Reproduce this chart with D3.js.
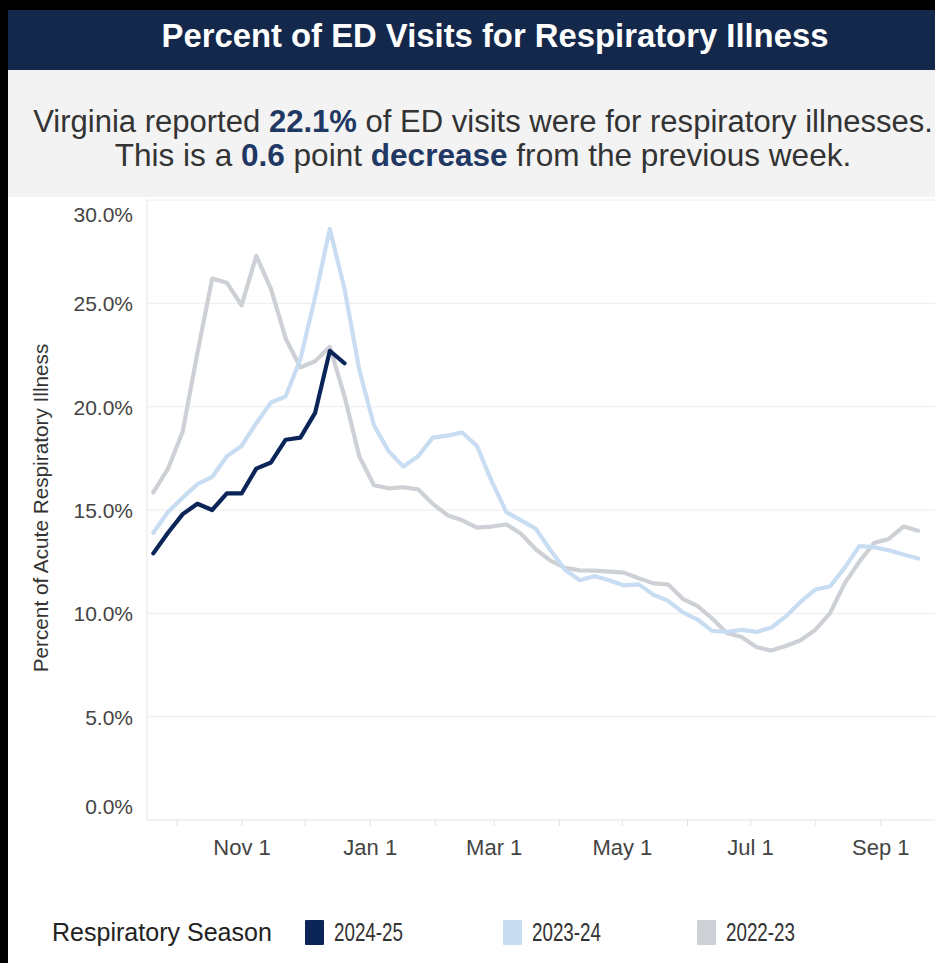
<!DOCTYPE html>
<html>
<head>
<meta charset="utf-8">
<script src="https://cdn.jsdelivr.net/npm/d3@7"></script>
<style>
  body { margin: 0; background: #fff; }
  svg { display: block; font-family: "Liberation Sans", Arial, sans-serif; }
</style>
</head>
<body>
<div id="chart"></div>
<script>
// seasons, newest first (legend order)
const seasons = ["2024-25", "2023-24", "2022-23"];
const seasonColors = ["#0b2559", "#c8ddf2", "#cdd1d5"];

// weekly values, week 0 = around Sep 20 on a common season axis
const values2425 = [12.9, 13.9, 14.8, 15.3, 15.0, 15.8, 15.8, 17.0, 17.3, 18.4, 18.5, 19.7, 22.7, 22.1];
const values2324 = [13.9, 14.9, 15.6, 16.25, 16.6, 17.6, 18.1, 19.2, 20.2, 20.5,
  22.3, 25.3, 28.6, 25.7, 21.8, 19.1, 17.85, 17.1, 17.6, 18.5,
  18.6, 18.75, 18.1, 16.4, 14.9, 14.5, 14.1, 13.05, 12.1, 11.6,
  11.8, 11.6, 11.35, 11.4, 10.9, 10.6, 10.05, 9.7, 9.15, 9.1,
  9.2, 9.1, 9.3, 9.85, 10.55, 11.15, 11.3, 12.2, 13.25, 13.2,
  13.05, 12.85, 12.65];
const values2223 = [15.85, 17.0, 18.8, 22.6, 26.2, 26.0, 24.9, 27.3, 25.7, 23.3,
  21.9, 22.2, 22.9, 20.5, 17.6, 16.2, 16.05, 16.1, 16.0, 15.3,
  14.75, 14.5, 14.15, 14.2, 14.3, 13.85, 13.1, 12.55, 12.2, 12.08,
  12.07, 12.02, 11.97, 11.7, 11.45, 11.4, 10.7, 10.35, 9.75, 9.05,
  8.85, 8.37, 8.2, 8.42, 8.7, 9.2, 10.0, 11.45, 12.5, 13.4,
  13.6, 14.2, 14.0];

const seasonValues = [values2425, values2324, values2223];
const firstWeek = new Date(2022, 8, 20);
const yTicks = [0, 5, 10, 15, 20, 25, 30];

const width = 935;
const height = 963;

const svg = d3.select("#chart").append("svg")
  .attr("width", width)
  .attr("height", height);

// black frame bits from the screenshot
svg.append("rect").attr("x", 0).attr("y", 0).attr("width", width).attr("height", 10).attr("fill", "#000");
svg.append("rect").attr("x", 0).attr("y", 0).attr("width", 8).attr("height", height).attr("fill", "#000");

// header band + summary panel
svg.append("rect").attr("x", 8).attr("y", 10).attr("width", width - 8).attr("height", 60).attr("fill", "#14284b");
svg.append("rect").attr("x", 8).attr("y", 70).attr("width", width - 8).attr("height", 127).attr("fill", "#f3f3f3");

function fit(sel, w) {
  const fs = parseFloat(sel.attr("font-size"));
  const cur = sel.node().getComputedTextLength();
  sel.attr("font-size", fs * w / cur);
}

const title = svg.append("text")
  .attr("x", 495).attr("y", 47)
  .attr("text-anchor", "middle")
  .attr("font-size", 26).attr("font-weight", "bold")
  .attr("fill", "#fff")
  .text("Percent of ED Visits for Respiratory Illness");
fit(title, 667);

const line1 = svg.append("text")
  .attr("x", 483).attr("y", 132)
  .attr("text-anchor", "middle")
  .attr("font-size", 24).attr("fill", "#333");
line1.append("tspan").text("Virginia reported ");
line1.append("tspan").attr("font-weight", "bold").attr("fill", "#1f3864").text("22.1%");
line1.append("tspan").text(" of ED visits were for respiratory illnesses.");
fit(line1, 900);

const line2 = svg.append("text")
  .attr("x", 483).attr("y", 166)
  .attr("text-anchor", "middle")
  .attr("font-size", 24).attr("fill", "#333");
line2.append("tspan").text("This is a ");
line2.append("tspan").attr("font-weight", "bold").attr("fill", "#1f3864").text("0.6");
line2.append("tspan").text(" point ");
line2.append("tspan").attr("font-weight", "bold").attr("fill", "#1f3864").text("decrease");
line2.append("tspan").text(" from the previous week.");
fit(line2, 737);

// scales
const x = d3.scaleTime()
  .domain([new Date(2022, 8, 17), new Date(2023, 8, 27)])
  .range([147, 935]);

const y = d3.scaleLinear()
  .domain([0, 30])
  .range([820, 200]);

// gridlines
svg.append("g")
  .selectAll("line")
  .data(yTicks)
  .enter()
  .append("line")
  .attr("x1", 147).attr("x2", width)
  .attr("y1", d => y(d)).attr("y2", d => y(d))
  .attr("stroke", d => d === 0 ? "#e4e4e4" : "#ececec")
  .attr("stroke-width", 1);

svg.append("line")
  .attr("x1", 147).attr("x2", 147)
  .attr("y1", 200).attr("y2", 820)
  .attr("stroke", "#e6e6e6");

// y axis labels
const yAxis = svg.append("g")
  .attr("transform", "translate(147,0)")
  .call(d3.axisLeft(y).tickValues(yTicks).tickSize(0).tickPadding(14)
    .tickFormat(d => d.toFixed(1) + "%"));
yAxis.select(".domain").remove();
yAxis.selectAll("text")
  .attr("font-size", 21)
  .attr("font-family", "Liberation Sans, Arial, sans-serif")
  .attr("fill", "#444")
  .attr("dy", d => d === 30 ? "1.0em" : d === 0 ? "-0.3em" : "0.35em");

// x axis, monthly ticks, every other month labelled
const xAxis = svg.append("g")
  .attr("transform", "translate(0,820)")
  .call(d3.axisBottom(x)
    .ticks(d3.timeMonth.every(1))
    .tickSize(6)
    .tickPadding(13)
    .tickFormat(d => d.getMonth() % 2 === 0 ? d3.timeFormat("%b %-d")(d) : ""));
xAxis.select(".domain").remove();
xAxis.selectAll("line").attr("stroke", "#e2e2e2");
xAxis.selectAll("text")
  .attr("font-size", 22)
  .attr("font-family", "Liberation Sans, Arial, sans-serif")
  .attr("fill", "#444");

// y title
const yTitle = svg.append("text")
  .attr("transform", "translate(48,508) rotate(-90)")
  .attr("text-anchor", "middle")
  .attr("font-size", 19)
  .attr("fill", "#333")
  .text("Percent of Acute Respiratory Illness");
fit(yTitle, 329);

// lines, oldest first so the current season sits on top
const line = d3.line()
  .x((d, i) => x(d3.timeDay.offset(firstWeek, 7 * i)))
  .y(d => y(d));

svg.append("g")
  .selectAll("path")
  .data(seasons.map((s, i) => ({ season: s, color: seasonColors[i], values: seasonValues[i] })).reverse())
  .enter()
  .append("path")
  .attr("d", d => line(d.values))
  .attr("fill", "none")
  .attr("stroke", d => d.color)
  .attr("stroke-width", 4.2)
  .attr("stroke-linejoin", "round")
  .attr("stroke-linecap", "round");

// legend
const legTitle = svg.append("text")
  .attr("x", 52).attr("y", 941)
  .attr("font-size", 22)
  .attr("fill", "#222")
  .text("Respiratory Season");
fit(legTitle, 220);

const legendX = [305, 503, 697];
const legend = svg.append("g")
  .selectAll("g")
  .data(seasons)
  .enter()
  .append("g")
  .attr("transform", (d, i) => `translate(${legendX[i]},920)`);

legend.append("rect")
  .attr("width", 19).attr("height", 25)
  .attr("rx", 1)
  .attr("fill", (d, i) => seasonColors[i]);

legend.append("text")
  .attr("x", 29).attr("y", 21)
  .attr("font-size", 25)
  .attr("textLength", 69)
  .attr("lengthAdjust", "spacingAndGlyphs")
  .attr("fill", "#333")
  .text(d => d);
</script>
</body>
</html>
